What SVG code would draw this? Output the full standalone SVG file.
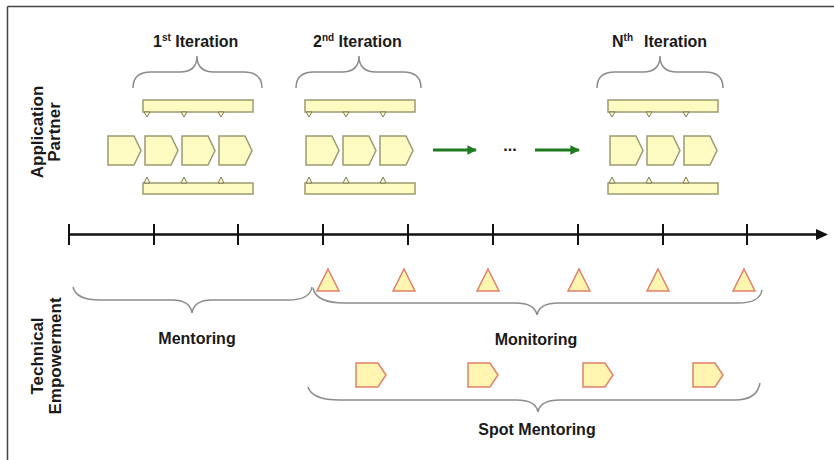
<svg xmlns="http://www.w3.org/2000/svg" width="834" height="460" viewBox="0 0 834 460">
<defs>
<style>
.t{font-family:"Liberation Sans",Arial,sans-serif;font-weight:bold;font-size:16px;fill:#1a1a1a}
.lane{font-size:17px}
.sup{font-size:10px}
.brace{fill:none;stroke:#8c8c8c;stroke-width:1.5}
.pent{fill:#fdfbc2;stroke:#9c9a72;stroke-width:1.5}
.bar{fill:#fdfbc2;stroke:#9c9a72;stroke-width:1.5}
.tri{fill:#fdfbc2;stroke:#7c7a5a;stroke-width:1}
.mon{fill:#fff4b0;stroke:#e0806a;stroke-width:1.5}
.green{stroke:#1f7a1f;stroke-width:3;fill:none}
.tick{stroke:#111;stroke-width:2}
</style>
<marker id="garrow" viewBox="0 0 10 10" refX="9" refY="5" markerWidth="3.2" markerHeight="3.2" orient="auto" markerUnits="strokeWidth">
<path d="M0,0 L10,5 L0,10 Z" fill="#1f7a1f"/>
</marker>
<g id="pentTop"><path class="pent" d="M0,0 H26 L33,14.5 L26,29 H0 Z"/></g>
<g id="barTop">
<rect class="bar" x="0" y="0" width="110" height="12"/>
<path class="tri" d="M1,12 L7,12 L4,17 Z"/>
<path class="tri" d="M38,12 L44,12 L41,17 Z"/>
<path class="tri" d="M75,12 L81,12 L78,17 Z"/>
</g>
<g id="barBot">
<rect class="bar" x="0" y="6" width="110" height="11"/>
<path class="tri" d="M1,6 L7,6 L4,0 Z"/>
<path class="tri" d="M38,6 L44,6 L41,0 Z"/>
<path class="tri" d="M75,6 L81,6 L78,0 Z"/>
</g>
<g id="monTri"><path class="mon" d="M0,0 L11,22 L-11,22 Z"/></g>
<g id="spot"><path class="mon" d="M0,0 H22 L30,12 L22,24 H0 Z"/></g>
</defs>
<rect width="834" height="460" fill="#fff"/>
<g id="frame" stroke="#444" stroke-width="1.5" fill="none">
<line x1="7.5" y1="6.5" x2="834" y2="6.5"/>
<line x1="7.5" y1="6.5" x2="7.5" y2="460"/>
</g>

<g id="lane-labels">
<text class="t lane" transform="translate(43,132) rotate(-90)" text-anchor="middle">Application</text>
<text class="t lane" transform="translate(60,132) rotate(-90)" text-anchor="middle">Partner</text>
<text class="t lane" transform="translate(43,356) rotate(-90)" text-anchor="middle">Technical</text>
<text class="t lane" transform="translate(61,356) rotate(-90)" text-anchor="middle">Empowerment</text>
</g>

<g id="iteration1">
<text class="t" x="153" y="47">1<tspan class="sup" dy="-6">st</tspan><tspan dy="6"> Iteration</tspan></text>
<path class="brace" d="M133,88 Q133,72 151,72 L180,72 Q197,72 197,56 Q197,72 214,72 L244,72 Q262,72 262,88"/>
<use href="#barTop" x="143" y="100"/>
<use href="#pentTop" x="108" y="136"/>
<use href="#pentTop" x="145" y="136"/>
<use href="#pentTop" x="182" y="136"/>
<use href="#pentTop" x="219" y="136"/>
<use href="#barBot" x="143" y="177"/>
</g>

<g id="iteration2">
<text class="t" x="313" y="47">2<tspan class="sup" dy="-6">nd</tspan><tspan dy="6"> Iteration</tspan></text>
<path class="brace" d="M296,88 Q296,72 314,72 L342,72 Q359,72 359,56 Q359,72 376,72 L403,72 Q421,72 421,88"/>
<use href="#barTop" x="305" y="100"/>
<use href="#pentTop" x="306" y="136"/>
<use href="#pentTop" x="343" y="136"/>
<use href="#pentTop" x="380" y="136"/>
<use href="#barBot" x="305" y="177"/>
</g>

<g id="iterationN">
<text class="t" x="612" y="47">N<tspan class="sup" dy="-6">th</tspan></text>
<text class="t" x="644" y="47">Iteration</text>
<path class="brace" d="M597,88 Q597,72 615,72 L643,72 Q660,72 660,56 Q660,72 677,72 L705,72 Q723,72 723,88"/>
<use href="#barTop" x="608" y="100"/>
<use href="#pentTop" x="610" y="136"/>
<use href="#pentTop" x="647" y="136"/>
<use href="#pentTop" x="684" y="136"/>
<use href="#barBot" x="608" y="177"/>
</g>

<g id="connectors">
<line class="green" x1="433" y1="150" x2="476" y2="150" marker-end="url(#garrow)"/>
<line class="green" x1="535" y1="150" x2="579" y2="150" marker-end="url(#garrow)"/>
</g>
<text id="ellipsis" class="t" x="510" y="151" text-anchor="middle">...</text>

<g id="timeline">
<line x1="69" y1="234.5" x2="818" y2="234.5" stroke="#111" stroke-width="2.5"/>
<path d="M816,229 L828,234.5 L816,240 Z" fill="#111"/>
<line class="tick" x1="69" y1="224" x2="69" y2="245"/>
<line class="tick" x1="154" y1="224" x2="154" y2="245"/>
<line class="tick" x1="238" y1="224" x2="238" y2="245"/>
<line class="tick" x1="323" y1="224" x2="323" y2="245"/>
<line class="tick" x1="408" y1="224" x2="408" y2="245"/>
<line class="tick" x1="493" y1="224" x2="493" y2="245"/>
<line class="tick" x1="578" y1="224" x2="578" y2="245"/>
<line class="tick" x1="663" y1="224" x2="663" y2="245"/>
<line class="tick" x1="747" y1="224" x2="747" y2="245"/>
</g>

<g id="mentoring">
<path class="brace" d="M73,287 Q76,300 100,300 L172,300 Q190,300 192,313 Q194,300 212,300 L288,300 Q310,300 312,287"/>
<text class="t" x="197" y="344" text-anchor="middle">Mentoring</text>
</g>

<g id="monitoring">
<use href="#monTri" x="328" y="269"/>
<use href="#monTri" x="404" y="269"/>
<use href="#monTri" x="488" y="269"/>
<use href="#monTri" x="579" y="269"/>
<use href="#monTri" x="658" y="269"/>
<use href="#monTri" x="744" y="269"/>
<path class="brace" d="M313,288 Q316,303 345,303 L515,303 Q535,303 537,315 Q539,303 559,303 L738,303 Q760,303 762,290"/>
<text class="t" x="536" y="345" text-anchor="middle">Monitoring</text>
</g>

<g id="spot-mentoring">
<use href="#spot" x="356" y="363"/>
<use href="#spot" x="468" y="363"/>
<use href="#spot" x="583" y="363"/>
<use href="#spot" x="693" y="363"/>
<path class="brace" d="M308,387 Q312,400 340,400 L516,400 Q536,400 538,412 Q540,400 560,400 L735,400 Q757,400 760,383"/>
<text class="t" x="537" y="435" text-anchor="middle">Spot Mentoring</text>
</g>
</svg>
